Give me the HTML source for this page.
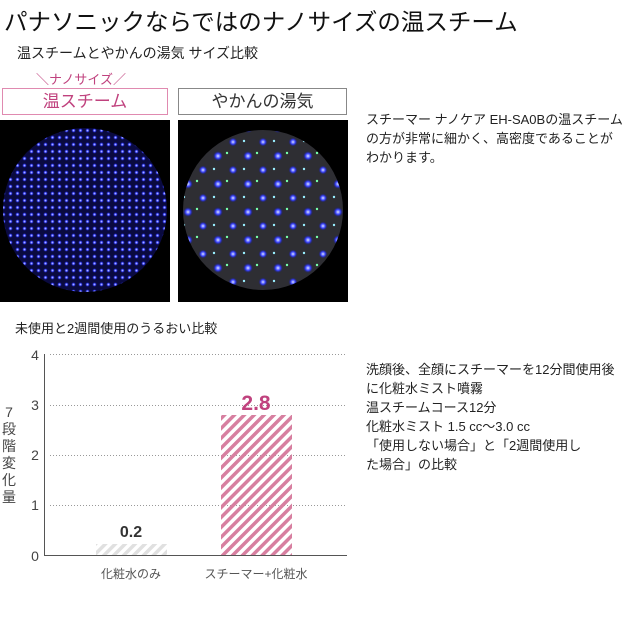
<!DOCTYPE html>
<html><head><meta charset="utf-8"><style>
body{margin:0;width:640px;height:640px;background:#fff;position:relative;overflow:hidden;font-family:"Liberation Sans","Noto Sans CJK JP",sans-serif;color:#222}
.a{position:absolute;white-space:nowrap}
</style></head><body>
<div class="a" style="left:4px;top:3px;font-size:23.5px;color:#111">パナソニックならではのナノサイズの温スチーム</div>
<div class="a" style="left:17px;top:43px;font-size:14px">温スチームとやかんの湯気 サイズ比較</div>
<div class="a" style="left:36px;top:69px;font-size:13px;color:#c0427e">＼ナノサイズ／</div>
<div class="a" style="left:2px;top:88px;width:164px;height:25px;border:1px solid #e08ab0;font-size:17px;color:#c0427e;text-align:center;line-height:25px">温スチーム</div>
<div class="a" style="left:178px;top:88px;width:167px;height:25px;border:1px solid #888;font-size:17px;color:#333;text-align:center;line-height:25px">やかんの湯気</div>
<svg class="a" style="left:0;top:120px" width="350" height="182">
<defs>
<radialGradient id="d"><stop offset="0" stop-color="#dde4ff"/><stop offset="0.5" stop-color="#3a44ff"/><stop offset="1" stop-color="#10138a" stop-opacity="0"/></radialGradient>
<pattern id="p" width="7" height="7" patternUnits="userSpaceOnUse"><circle cx="3.5" cy="3.5" r="2.4" fill="url(#d)"/></pattern>
<pattern id="q" width="30" height="28" patternUnits="userSpaceOnUse"><circle cx="8" cy="8" r="5" fill="url(#d)"/><circle cx="23" cy="22" r="4.5" fill="url(#d)"/><circle cx="17" cy="5" r="1.2" fill="#7fa"/><circle cx="4" cy="21" r="1.2" fill="#9ef"/></pattern>
<clipPath id="c1"><circle cx="85" cy="90" r="82"/></clipPath>
<clipPath id="c2"><circle cx="263" cy="90" r="80"/></clipPath>
</defs>
<rect x="0" y="0" width="170" height="182" fill="#000"/>
<circle cx="85" cy="90" r="82" fill="#0a0a40"/>
<rect x="0" y="0" width="170" height="182" fill="url(#p)" clip-path="url(#c1)"/>
<rect x="178" y="0" width="170" height="182" fill="#000"/>
<circle cx="263" cy="90" r="80" fill="#2e2e33"/>
<rect x="178" y="0" width="170" height="182" fill="url(#q)" clip-path="url(#c2)"/>
</svg>
<div class="a" style="left:366px;top:110px;font-size:13px;line-height:19px">スチーマー ナノケア EH-SA0Bの温スチーム<br>の方が非常に細かく、高密度であることが<br>わかります。</div>
<div class="a" style="left:15px;top:318px;font-size:13px">未使用と2週間使用のうるおい比較</div>
<div class="a" style="left:366px;top:360px;font-size:13px;line-height:19px">洗顔後、全顔にスチーマーを12分間使用後<br>に化粧水ミスト噴霧<br>温スチームコース12分<br>化粧水ミスト 1.5 cc～3.0 cc<br>「使用しない場合」と「2週間使用し<br>た場合」の比較</div>
<svg class="a" style="left:0;top:340px" width="360" height="250" font-family="Liberation Sans, Noto Sans CJK JP, sans-serif">
<defs>
<pattern id="h1" width="7" height="7" patternUnits="userSpaceOnUse" patternTransform="rotate(45)"><rect width="3.5" height="7" fill="#e0e0e0"/></pattern>
<pattern id="h2" width="7" height="7" patternUnits="userSpaceOnUse" patternTransform="rotate(45)"><rect width="3.5" height="7" fill="#d77fa0"/></pattern>
</defs>
<g stroke="#999" stroke-dasharray="1,2" stroke-width="1">
<line x1="50" x2="347" y1="14.5" y2="14.5"/><line x1="50" x2="347" y1="65.5" y2="65.5"/><line x1="50" x2="347" y1="115.5" y2="115.5"/><line x1="50" x2="347" y1="165.5" y2="165.5"/>
</g>
<line x1="44.5" x2="44.5" y1="14" y2="215" stroke="#555"/>
<line x1="44" x2="347" y1="215.5" y2="215.5" stroke="#555"/>
<g font-size="14" fill="#444" text-anchor="middle">
<text x="35" y="20">4</text><text x="35" y="70">3</text><text x="35" y="120">2</text><text x="35" y="170">1</text><text x="35" y="221">0</text>
</g>
<g font-size="14" fill="#444" text-anchor="middle">
<text x="9" y="77">7</text><text x="9" y="94">段</text><text x="9" y="111">階</text><text x="9" y="128">変</text><text x="9" y="145">化</text><text x="9" y="162">量</text>
</g>
<rect x="96" y="204" width="71" height="11" fill="url(#h1)"/>
<rect x="221" y="75" width="71" height="140" fill="url(#h2)"/>
<text x="131" y="197" font-size="16" font-weight="bold" fill="#333" text-anchor="middle">0.2</text>
<text x="256" y="70" font-size="21" font-weight="bold" fill="#c0427e" text-anchor="middle">2.8</text>
<text x="131" y="238" font-size="12" fill="#555" text-anchor="middle">化粧水のみ</text>
<text x="256" y="238" font-size="12" fill="#555" text-anchor="middle">スチーマー+化粧水</text>
</svg>
</body></html>
